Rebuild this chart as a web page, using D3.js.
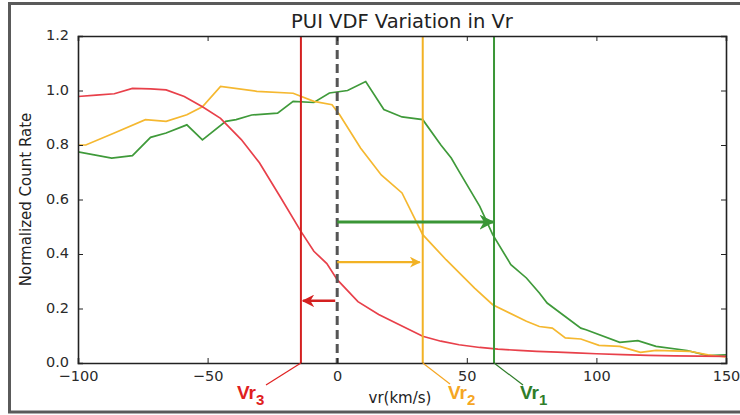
<!DOCTYPE html>
<html>
<head>
<meta charset="utf-8">
<script src="https://cdn.jsdelivr.net/npm/d3@7/dist/d3.min.js"></script>
<style>
  html, body { margin: 0; padding: 0; background: #fff; }
  svg { display: block; font-family: "DejaVu Sans", sans-serif; }
</style>
</head>
<body>
<svg id="chart" width="740" height="415"></svg>
<script>
// Velocity samples (km/s) and normalized count rates per curve
const redVr    = [-100, -93, -86, -79, -72, -66, -59, -52, -45, -37, -30, -22, -14, -9, -4, 0, 8, 16, 24, 33, 40, 47, 55, 62, 70, 77, 85, 92, 100, 110, 120, 130, 140, 150];
const redRate  = [0.978, 0.983, 0.988, 1.008, 1.006, 1.002, 0.978, 0.94, 0.898, 0.82, 0.735, 0.61, 0.483, 0.41, 0.365, 0.306, 0.225, 0.178, 0.14, 0.098, 0.08, 0.067, 0.057, 0.051, 0.046, 0.043, 0.040, 0.037, 0.034, 0.031, 0.028, 0.026, 0.025, 0.024];

const orangeVr   = [-100, -97, -86, -74, -66, -58, -52, -45, -31, -17, -9, -2, 1, 9, 17, 25, 33, 42, 53, 60, 73, 78, 83, 88, 94, 101, 109, 117, 123, 136, 143, 150];
const orangeRate = [0.80, 0.80, 0.844, 0.893, 0.887, 0.911, 0.94, 1.015, 0.997, 0.99, 0.96, 0.948, 0.91, 0.789, 0.69, 0.624, 0.471, 0.379, 0.275, 0.214, 0.153, 0.134, 0.128, 0.092, 0.088, 0.065, 0.061, 0.039, 0.046, 0.043, 0.03, 0.022];

const greenVr   = [-100, -87, -79, -72, -66, -58, -52, -43, -39, -33, -23, -17, -9, -3, 4, 11, 18, 25, 33, 40, 44, 47, 55, 60, 67, 73, 78, 81, 94, 96, 109, 116, 123, 135, 143, 150];
const greenRate = [0.775, 0.752, 0.761, 0.828, 0.844, 0.874, 0.819, 0.887, 0.893, 0.91, 0.917, 0.96, 0.956, 0.991, 1.0, 1.033, 0.93, 0.903, 0.893, 0.80, 0.752, 0.703, 0.575, 0.471, 0.361, 0.312, 0.257, 0.22, 0.128, 0.122, 0.076, 0.082, 0.061, 0.046, 0.027, 0.03];

// Marker lines and arrow heights
const vr3 = -14, vr2 = 33, vr1 = 60.5;
const arrowRate = { red: 0.228, orange: 0.37, green: 0.517 };

const xTicks = [-100, -50, 0, 50, 100, 150];
const yTicks = [0.0, 0.2, 0.4, 0.6, 0.8, 1.0, 1.2];

const colors = {
  red: "#e8404a", redLine: "#d42020",
  orange: "#f5b830", orangeLine: "#f2b224",
  green: "#3f9a3a", greenLine: "#3a9636",
  zero: "#555555"
};

const svg = d3.select("#chart");
const plotL = 78, plotR = 726, plotT = 36, plotB = 363;

const x = d3.scaleLinear().domain([-100, 150]).range([plotL, plotR]);
const y = d3.scaleLinear().domain([0, 1.2]).range([plotB, plotT]);

// outer frame (open on the right edge)
svg.append("rect").attr("x", 9.5).attr("y", 3.5).attr("width", 740).attr("height", 408.5)
  .attr("fill", "none").attr("stroke", "#5a5a5a").attr("stroke-width", 3);

const defs = svg.append("defs");
function arrowHead(id, color) {
  defs.append("marker").attr("id", id).attr("viewBox", "0 0 10 10")
    .attr("refX", 9).attr("refY", 5).attr("markerWidth", 5).attr("markerHeight", 5)
    .attr("orient", "auto")
    .append("path").attr("d", "M0,0 L10,5 L0,10 L3,5 Z").attr("fill", color);
}
arrowHead("ahRed", colors.redLine);
arrowHead("ahOrange", colors.orangeLine);
arrowHead("ahGreen", colors.greenLine);

const clip = defs.append("clipPath").attr("id", "plotClip");
clip.append("rect").attr("x", plotL).attr("y", plotT).attr("width", plotR - plotL).attr("height", plotB - plotT);

const line = d3.line().x(d => x(d[0])).y(d => y(d[1]));
const plot = svg.append("g").attr("clip-path", "url(#plotClip)");

plot.append("path").datum(d3.zip(greenVr, greenRate)).attr("d", line)
  .attr("fill", "none").attr("stroke", colors.green).attr("stroke-width", 1.7);
plot.append("path").datum(d3.zip(orangeVr, orangeRate)).attr("d", line)
  .attr("fill", "none").attr("stroke", colors.orange).attr("stroke-width", 1.7);
plot.append("path").datum(d3.zip(redVr, redRate)).attr("d", line)
  .attr("fill", "none").attr("stroke", colors.red).attr("stroke-width", 1.7);

// zero-velocity dashed reference
plot.append("line").attr("x1", x(0)).attr("x2", x(0)).attr("y1", y(1.2)).attr("y2", y(0))
  .attr("stroke", colors.zero).attr("stroke-width", 3).attr("stroke-dasharray", "9,5");

// Vr markers
[[vr3, colors.redLine], [vr2, colors.orangeLine], [vr1, colors.greenLine]].forEach(([v, c]) => {
  svg.append("line").attr("x1", x(v)).attr("x2", x(v)).attr("y1", y(1.2)).attr("y2", y(0))
    .attr("stroke", c).attr("stroke-width", 2);
});

// shift arrows from zero
svg.append("line").attr("x1", x(0)).attr("x2", x(vr1) - 1).attr("y1", y(arrowRate.green)).attr("y2", y(arrowRate.green))
  .attr("stroke", colors.greenLine).attr("stroke-width", 3).attr("marker-end", "url(#ahGreen)");
svg.append("line").attr("x1", x(0)).attr("x2", x(vr2) - 3).attr("y1", y(arrowRate.orange)).attr("y2", y(arrowRate.orange))
  .attr("stroke", colors.orangeLine).attr("stroke-width", 2.2).attr("marker-end", "url(#ahOrange)");
svg.append("line").attr("x1", x(0) - 2).attr("x2", x(vr3) + 2).attr("y1", y(arrowRate.red)).attr("y2", y(arrowRate.red))
  .attr("stroke", colors.redLine).attr("stroke-width", 2.5).attr("marker-end", "url(#ahRed)");

// axes (ticks inward on all four sides)
const fmtX = d => d < 0 ? "\u2212" + Math.abs(d) : String(d);
const axB = d3.axisBottom(x).tickValues(xTicks).tickSize(-5).tickPadding(8).tickFormat(fmtX);
const axT = d3.axisTop(x).tickValues(xTicks).tickSize(-5).tickFormat("");
const axL = d3.axisLeft(y).tickValues(yTicks).tickSize(-5).tickPadding(9).tickFormat(d3.format(".1f"));
const axR = d3.axisRight(y).tickValues(yTicks).tickSize(-5).tickFormat("");

function styleAxis(g) {
  g.select(".domain").attr("stroke", "#222").attr("stroke-width", 1.6);
  g.selectAll(".tick line").attr("stroke", "#222").attr("stroke-width", 1);
  g.selectAll(".tick text").attr("fill", "#2a2a2a").attr("font-size", 14.5)
    .attr("font-family", "'DejaVu Sans', sans-serif");
}
svg.append("g").attr("transform", `translate(0,${plotB})`).call(axB).call(styleAxis);
svg.append("g").attr("transform", `translate(0,${plotT})`).call(axT).call(styleAxis);
svg.append("g").attr("transform", `translate(${plotL},0)`).call(axL).call(styleAxis)
  .selectAll(".tick text").attr("dy", "0.25em");
svg.append("g").attr("transform", `translate(${plotR},0)`).call(axR).call(styleAxis);

// titles
svg.append("text").attr("x", 402).attr("y", 28).attr("text-anchor", "middle")
  .attr("font-size", 19.5).attr("fill", "#222").text("PUI VDF Variation in Vr");
svg.append("text").attr("x", 400).attr("y", 403).attr("text-anchor", "middle")
  .attr("font-size", 15).attr("fill", "#222").text("vr(km/s)");
svg.append("text").attr("transform", `translate(31,${(plotT + plotB) / 2}) rotate(-90)`)
  .attr("text-anchor", "middle").attr("font-size", 15).attr("fill", "#222").text("Normalized Count Rate");

// Vr labels with leader lines
const labels = [
  { v: vr3, sub: "3", color: "#e02020", tx: 237, lx: 266, ly: 385 },
  { v: vr2, sub: "2", color: "#f5a623", tx: 448, lx: 450, ly: 384 },
  { v: vr1, sub: "1", color: "#2f7d2a", tx: 520, lx: 523, ly: 385 }
];
labels.forEach(l => {
  svg.append("line").attr("x1", x(l.v)).attr("y1", plotB).attr("x2", l.lx).attr("y2", l.ly)
    .attr("stroke", l.color).attr("stroke-width", 1.2);
  const t = svg.append("text").attr("x", l.tx).attr("y", 399).attr("fill", l.color)
    .attr("font-family", "'Liberation Sans', Arial, sans-serif").attr("font-weight", "bold").attr("font-size", 19);
  t.append("tspan").text("Vr");
  t.append("tspan").attr("dy", 6).attr("font-size", 15).text(l.sub);
});
</script>
</body>
</html>
